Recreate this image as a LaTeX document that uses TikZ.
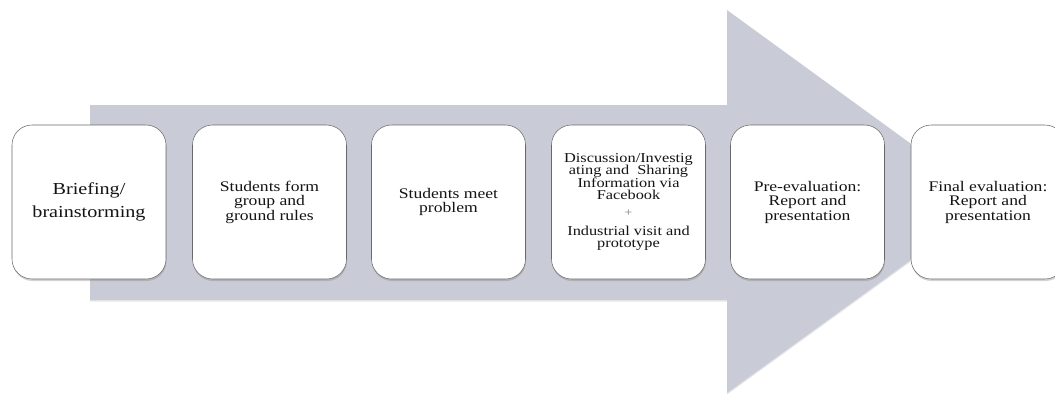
\documentclass[tikz,border=0pt]{standalone}
\usepackage{fontspec}
\setmainfont[FakeStretch=1.2]{Liberation Serif}
\usetikzlibrary{shadows}
\definecolor{arrowgray}{RGB}{201,204,214}
\definecolor{boxline}{RGB}{105,105,105}

\begin{document}
\begin{tikzpicture}[x=0.75pt,y=-0.75pt,
every node/.style={draw=boxline,fill=white,rounded corners=15pt,minimum width=115.5pt,minimum height=115.5pt,align=center,text=black!92,font=\fontsize{11}{10.9}\selectfont,drop shadow={shadow xshift=0.4pt,shadow yshift=-1.5pt,opacity=0.35}}]

\useasboundingbox (0,0) rectangle (1055,394);
\fill[arrowgray,drop shadow={shadow xshift=0pt,shadow yshift=-1.2pt,opacity=0.2}] (90,105) -- (727,105) -- (727,10) -- (991,202) -- (727,393) -- (727,300) -- (90,300) -- cycle;

\node(1) at (89,202) [font=\fontsize{12.6}{17}\selectfont] {Briefing/\\brainstorming};
\node(2) at (269.5,202) {Students form\\group and\\ground rules};
\node(3) at (448.5,202) {Students meet\\problem};
\node(4) at (628.5,202) [font=\fontsize{10.2}{9.4}\selectfont] {Discussion/Investig\\ating and\ \ Sharing\\Information via\\Facebook\\[3.4pt]{\color{black!50}\small+}\\[4.6pt]Industrial visit and\\prototype};
\node(5) at (807.5,202) {Pre-evaluation:\\Report and\\presentation};
\node(6) at (988,202) {Final\ evaluation:\\Report and\\presentation};
\end{tikzpicture}
\end{document}
